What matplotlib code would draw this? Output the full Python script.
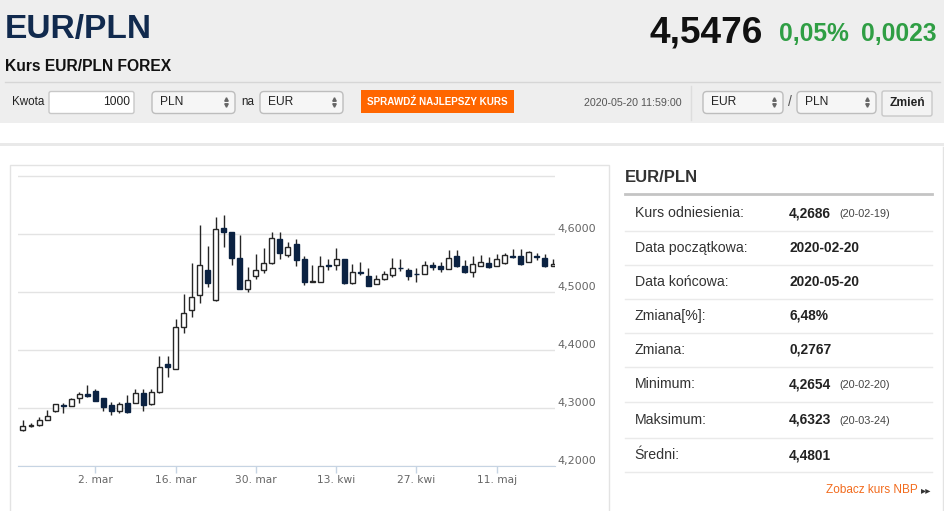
import numpy as np
import pandas as pd
import matplotlib
matplotlib.use('Agg')
import matplotlib.pyplot as plt
from matplotlib.patches import Rectangle, FancyBboxPatch

# daily EUR/PLN candles (business days 18 Feb - 20 May 2020)
dates = pd.bdate_range('2020-02-18', '2020-05-20')
opens = [4.2607, 4.2676, 4.2702, 4.2788, 4.2943, 4.3055, 4.3029, 4.3172, 4.3236, 4.3288,
         4.3162, 4.3041, 4.2948, 4.3076, 4.3086, 4.3248, 4.3064, 4.3271, 4.3753, 4.3662,
         4.4397, 4.4684, 4.4938, 4.5374, 4.4857, 4.6098, 4.6034, 4.5576, 4.5052, 4.5271,
         4.5374, 4.5490, 4.5909, 4.5633, 4.5814, 4.5559, 4.5172, 4.5172, 4.5455, 4.5460,
         4.5564, 4.5145, 4.5348, 4.5271, 4.5128, 4.5214, 4.5288, 4.5417, 4.5374, 4.5310,
         4.5305, 4.5460, 4.5443, 4.5391, 4.5621, 4.5448, 4.5345, 4.5448, 4.5490, 4.5443,
         4.5490, 4.5621, 4.5621, 4.5517, 4.5610, 4.5586, 4.5443]
highs = [4.2788, 4.2736, 4.2848, 4.2960, 4.3072, 4.3081, 4.3159, 4.3271, 4.3386, 4.3317,
         4.3167, 4.3098, 4.3098, 4.3214, 4.3328, 4.3322, 4.3317, 4.3891, 4.3891, 4.4534,
         4.4960, 4.5490, 4.6155, 4.5788, 4.6280, 4.6323, 4.6034, 4.5972, 4.5431, 4.5650,
         4.5748, 4.6024, 4.6029, 4.5862, 4.5903, 4.5610, 4.5460, 4.5616, 4.5564, 4.5748,
         4.5564, 4.5472, 4.5517, 4.5414, 4.5288, 4.5357, 4.5586, 4.5564, 4.5403, 4.5403,
         4.5529, 4.5517, 4.5517, 4.5719, 4.5719, 4.5541, 4.5616, 4.5633, 4.5603, 4.5645,
         4.5672, 4.5731, 4.5736, 4.5702, 4.5662, 4.5645, 4.5564]
lows = [4.2598, 4.2672, 4.2693, 4.2788, 4.2934, 4.2909, 4.3021, 4.3081, 4.3193, 4.3116,
        4.2948, 4.2879, 4.2903, 4.2917, 4.3081, 4.2943, 4.3055, 4.3262, 4.3524, 4.3659,
        4.4293, 4.4569, 4.4800, 4.5076, 4.4848, 4.5776, 4.5455, 4.5047, 4.5000, 4.5224,
        4.5328, 4.5486, 4.5569, 4.5593, 4.5438, 4.5107, 4.5167, 4.5167, 4.5374, 4.5374,
        4.5133, 4.5133, 4.5288, 4.5098, 4.5124, 4.5210, 4.5259, 4.5357, 4.5202, 4.5172,
        4.5300, 4.5374, 4.5334, 4.5386, 4.5426, 4.5317, 4.5259, 4.5443, 4.5417, 4.5438,
        4.5486, 4.5586, 4.5466, 4.5512, 4.5547, 4.5434, 4.5440]
closes = [4.2684, 4.2710, 4.2788, 4.2857, 4.3064, 4.3029, 4.3150, 4.3241, 4.3202, 4.3121,
          4.3017, 4.2948, 4.3064, 4.2926, 4.3248, 4.3055, 4.3279, 4.3710, 4.3697, 4.4397,
          4.4638, 4.4914, 4.5455, 4.5145, 4.6076, 4.6024, 4.5576, 4.5052, 4.5202, 4.5374,
          4.5500, 4.5921, 4.5662, 4.5766, 4.5547, 4.5159, 4.5180, 4.5443, 4.5443, 4.5564,
          4.5145, 4.5334, 4.5322, 4.5103, 4.5219, 4.5300, 4.5414, 4.5403, 4.5271, 4.5300,
          4.5460, 4.5421, 4.5391, 4.5586, 4.5448, 4.5334, 4.5472, 4.5517, 4.5421, 4.5559,
          4.5633, 4.5603, 4.5472, 4.5690, 4.5598, 4.5443, 4.5476]

tick_days = ['2020-03-02', '2020-03-16', '2020-03-30', '2020-04-13', '2020-04-27', '2020-05-11']
tick_labels = ['2. mar', '16. mar', '30. mar', '13. kwi', '27. kwi', '11. maj']
y_ticks = [4.2, 4.3, 4.4, 4.5, 4.6, 4.7]

stat_labels = ['Kurs odniesienia:', 'Data początkowa:', 'Data końcowa:', 'Zmiana[%]:',
               'Zmiana:', 'Minimum:', 'Maksimum:', 'Średni:']
stat_values = ['4,2686', '2020-02-20', '2020-05-20', '6,48%', '0,2767', '4,2654', '4,6323', '4,4801']
stat_dates = ['(20-02-19)', '', '', '', '', '(20-02-20)', '(20-03-24)', '']

plt.rcParams['font.family'] = ['Liberation Sans', 'DejaVu Sans']

fig = plt.figure(figsize=(9.45, 5.11), dpi=100)
page = fig.add_axes([0, 0, 1, 1])
page.set_xlim(0, 945)
page.set_ylim(511, 0)
page.axis('off')

PT = 0.72  # px -> pt at 100 dpi


def box(x0, y0, x1, y1, fc, ec='none', lw=1, r=0):
    if r:
        p = FancyBboxPatch((x0, y0), x1 - x0, y1 - y0, boxstyle=f'round,pad=0,rounding_size={r}',
                           fc=fc, ec=ec, lw=lw)
    else:
        p = Rectangle((x0, y0), x1 - x0, y1 - y0, fc=fc, ec=ec, lw=lw)
    page.add_patch(p)


def txt(x, y, s, px, **kw):
    kw.setdefault('color', '#333333')
    page.text(x, y, s, fontsize=px * PT, **kw)


def select(x0, x1, label):
    box(x0, 91.5, x1, 113.5, '#f6f6f6', '#bdbdbd', r=4)
    txt(x0 + 8, 102, label, 12, va='center', color='#222222')
    page.plot(x1 - 9, 99, marker='^', ms=2.5, color='#666666')
    page.plot(x1 - 9, 105, marker='v', ms=2.5, color='#666666')


# header
box(0, 0, 945, 123, '#eeeeee')
txt(5, 38, 'EUR/PLN', 33.5, weight='bold', color='#112a4e', va='baseline')
txt(5, 71, 'Kurs EUR/PLN FOREX', 15.6, weight='bold', color='#111111', va='baseline')
txt(650, 42, '4,5476', 37, weight='bold', color='#111111', va='baseline')
txt(779, 41, '0,05%', 24.6, weight='bold', color='#2f9e44', va='baseline')
txt(937, 41, '0,0023', 24.6, weight='bold', color='#2f9e44', va='baseline', ha='right')
page.plot([5, 940], [82, 82], color='#d6d6d6', lw=1)

# form row
txt(12, 102, 'Kwota', 11.6, va='center', color='#222222')
box(49, 91.5, 134, 113.5, 'white', '#c8c8c8', r=2)
txt(130, 102, '1000', 12, ha='right', va='center', color='#222222')
select(152, 235, 'PLN')
txt(241, 102, 'na', 11.6, va='center', color='#222222')
select(260, 343, 'EUR')
box(361, 90, 514, 113.5, '#ff6600')
txt(437.5, 102, 'SPRAWDŹ NAJLEPSZY KURS', 9.9, weight='bold', color='white', ha='center', va='center')
txt(682, 103, '2020-05-20 11:59:00', 10.6, ha='right', va='center', color='#555555')
page.plot([691, 691], [86, 120], color='#dddddd', lw=1)
select(703, 783, 'EUR')
txt(790, 102, '/', 14, ha='center', va='center', color='#555555')
select(797, 876, 'PLN')
box(882, 91, 932, 116, '#f3f3f3', '#c8c8c8', r=2)
txt(907, 103.5, 'Zmień', 12, weight='bold', ha='center', va='center', color='#222222')

# content frames
box(0, 143, 945, 146.5, '#e9e9e9')
box(10, 165, 609, 530, 'white', '#e3e3e3')
page.plot([943, 943], [147, 511], color='#e3e3e3', lw=1)

# stats panel
txt(625, 178, 'EUR/PLN', 16.6, weight='bold', va='center')
page.plot([625, 932], [194.5, 194.5], color='#c4c4c4', lw=2)
row_y = [213.3, 248.3, 282.3, 315.7, 350, 384.3, 420, 455]
sep_y = [231, 265.3, 299.3, 333.3, 367.3, 402.3, 438.3, 472.3]
for yy, lab, val, dd in zip(row_y, stat_labels, stat_values, stat_dates):
    txt(634.7, yy, lab, 14.1, va='center')
    txt(789, yy, val, 13.7, weight='bold', va='center', color='#222222')
    if dd:
        txt(839, yy + 1, dd, 10.9, va='center', color='#444444')
for yy in sep_y:
    page.plot([625, 932], [yy, yy], color='#eaeaea', lw=1)
txt(918, 490, 'Zobacz kurs NBP', 11.8, ha='right', va='center', color='#f26b1d')
page.text(921, 490.5, '▸▸', fontsize=7.5, family='DejaVu Sans', va='center', color='#333333')

# candlestick chart
ax = fig.add_axes([18 / 945, 1 - 465.7 / 511, 537 / 945, 291 / 511])
ax.patch.set_alpha(0)
x = np.arange(len(dates))
o = np.array(opens)
c = np.array(closes)
up = c >= o
ax.vlines(x, lows, highs, color='#262626', lw=1, zorder=2)
ax.bar(x[up], (c - o)[up], bottom=o[up], width=0.62, color='white', edgecolor='#262626',
       lw=1, zorder=3)
ax.bar(x[~up], (c - o)[~up], bottom=o[~up], width=0.62, color='#0b2242', edgecolor='#0b2242',
       lw=1, zorder=3)

ax.set_xlim(-0.62, 66.25)
ax.set_ylim(4.2, 4.7017)
ax.set_yticks(y_ticks)
ax.set_yticklabels([f'{v:.4f}'.replace('.', ',') if v < 4.65 else '' for v in y_ticks])
ax.yaxis.tick_right()
ax.tick_params(axis='y', length=0, pad=2, labelsize=8, labelcolor='#666666')
for lbl in ax.get_yticklabels():
    lbl.set_va('bottom')
    lbl.set_family('DejaVu Sans')
ax.set_axisbelow(True)
ax.yaxis.grid(True, color='#e3e3e3', lw=1)

tick_pos = [list(dates).index(pd.Timestamp(d)) for d in tick_days]
ax.set_xticks(tick_pos)
ax.set_xticklabels(tick_labels)
ax.tick_params(axis='x', length=5, width=1, color='#c6d4e3', labelsize=7.7,
               labelcolor='#666666', pad=2)
for lbl in ax.get_xticklabels():
    lbl.set_family('DejaVu Sans')
for s in ['top', 'left', 'right']:
    ax.spines[s].set_visible(False)
ax.spines['bottom'].set_color('#c6d4e3')

fig.savefig('out.png', dpi=100)
